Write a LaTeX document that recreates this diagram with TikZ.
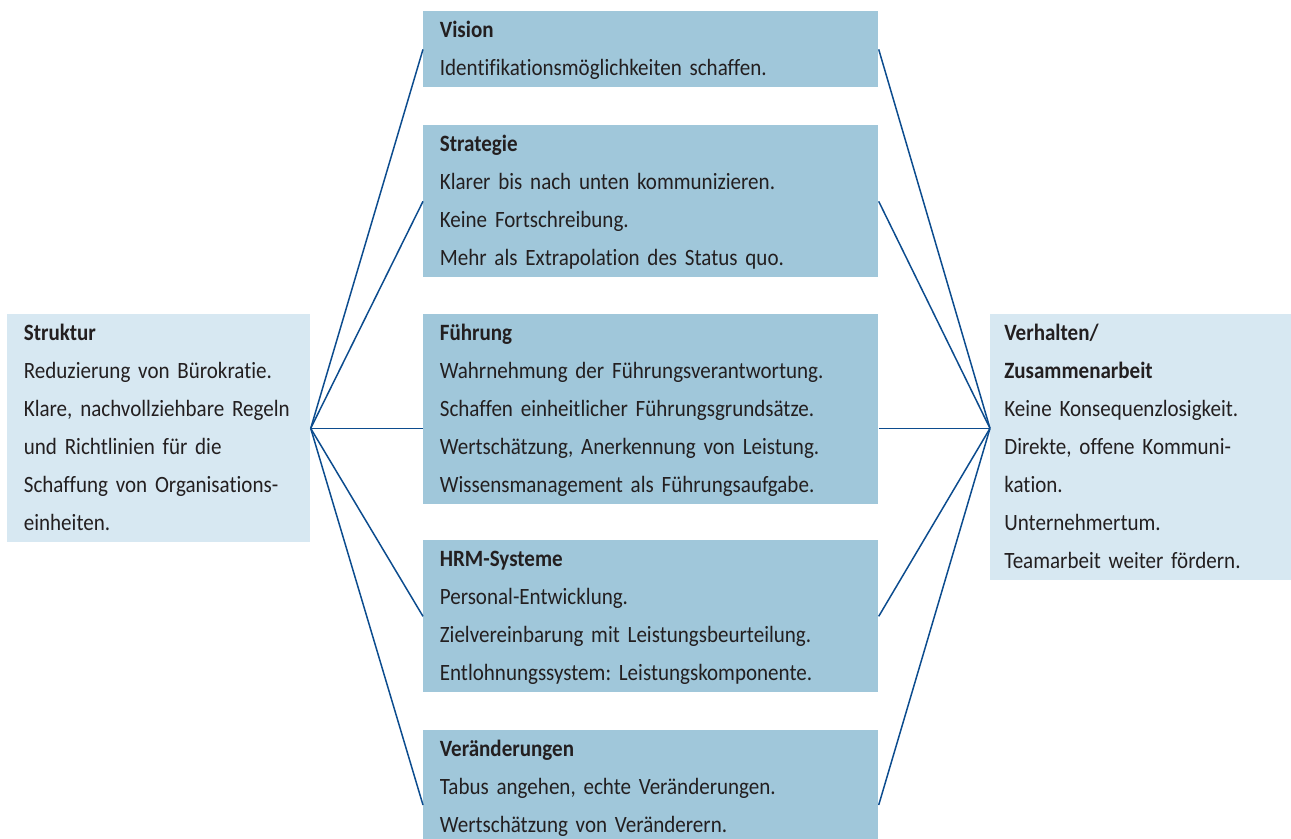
\documentclass[tikz,border=0pt]{standalone}
\usepackage{fontspec}
\setmainfont{Carlito}[FakeStretch=0.9, WordSpace=0.85, Ligatures=NoCommon]
\usepackage{tikz}
\usetikzlibrary{calc}
\usepackage{xcolor}

\definecolor{boxblue}{RGB}{160,199,218}
\definecolor{sideblue}{RGB}{215,232,242}
\definecolor{linkblue}{RGB}{12,76,142}
\definecolor{inkgray}{RGB}{35,31,32}

\tikzset{
    box/.style={anchor=north west, fill=boxblue, text=inkgray, align=left,
        inner ysep=0pt, inner xsep=0.33cm, text width=8.44cm,
        font=\fontsize{13.3pt}{0.76cm}\selectfont\frenchspacing,
        execute at begin node=\strut, execute at end node=\strut},
    sidebox/.style={box, fill=sideblue},
    link/.style={draw=linkblue, line width=0.85pt}
}

\begin{document}
\begin{tikzpicture}
        \useasboundingbox (0, 0) rectangle (25.82, -16.76);
        % Side boxes
        \node [sidebox, text width=5.40cm] (Struktur) at (0.14, -6.28)
            {\textbf{Struktur}\\Reduzierung von Bürokratie.\\Klare, nachvollziehbare Regeln\\und Richtlinien für die\\Schaffung von Organisations-\\einheiten.};
        \node [sidebox, inner xsep=0.28cm, text width=5.46cm] (Verhalten) at (19.80, -6.28)
            {\textbf{Verhalten/}\\\textbf{Zusammenarbeit}\\Keine Konsequenzlosigkeit.\\Direkte, offene Kommuni-\\kation.\\Unternehmertum.\\Teamarbeit weiter fördern.};
        % Middle boxes
        \node [box] (Vision) at (8.46, -0.22)
            {\textbf{Vision}\\Identifikationsmöglichkeiten schaffen.};
        \node [box] (Strategie) at (8.46, -2.50)
            {\textbf{Strategie}\\Klarer bis nach unten kommunizieren.\\Keine Fortschreibung.\\Mehr als Extrapolation des Status quo.};
        \node [box] (Fuehrung) at (8.46, -6.28)
            {\textbf{Führung}\\Wahrnehmung der Führungsverantwortung.\\Schaffen einheitlicher Führungsgrundsätze.\\Wertschätzung, Anerkennung von Leistung.\\Wissensmanagement als Führungsaufgabe.};
        \node [box] (HRM) at (8.46, -10.80)
            {\textbf{HRM-Systeme}\\Personal-Entwicklung.\\Zielvereinbarung mit Leistungsbeurteilung.\\Entlohnungssystem: Leistungskomponente.};
        \node [box] (Wandel) at (8.46, -14.60)
            {\textbf{Veränderungen}\\Tabus angehen, echte Veränderungen.\\Wertschätzung von Veränderern.};
        % Hubs
        \coordinate (hubL) at (Struktur.east);
        \coordinate (hubR) at (Verhalten.west |- hubL);
        \coordinate (wandelL) at ([yshift=-1.5cm] Wandel.north west);
        \coordinate (wandelR) at ([yshift=-1.5cm] Wandel.north east);
        % Lines
        \foreach \target in {Vision, Strategie, HRM} {
            \draw [link] (hubL) -- (\target.west);
            \draw [link] (\target.east) -- (hubR);
        }
        \draw [link] (hubL) -- (hubL -| Fuehrung.west);
        \draw [link] (hubL -| Fuehrung.east) -- (hubR);
        \draw [link] (hubL) -- (wandelL);
        \draw [link] (wandelR) -- (hubR);
    \end{tikzpicture}
\end{document}
